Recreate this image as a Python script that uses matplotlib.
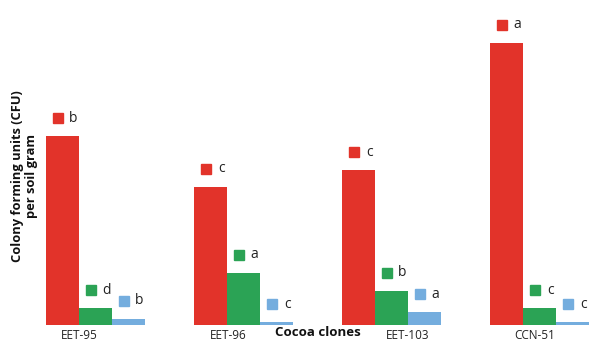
import numpy as np
import matplotlib.pyplot as plt
import matplotlib.transforms as mtransforms

plt.rcParams['font.family'] = ['Open Sans', 'DejaVu Sans']

# relative CFU per soil gram (arbitrary units)
clones = ['EET-95', 'EET-96', 'EET-103', 'CCN-51']
series_a = [189, 138, 155, 282]   # red
series_b = [17, 52, 34, 17]       # green
series_c = [6, 3, 13, 3]          # light blue
letters_a = ['b', 'c', 'c', 'a']
letters_b = ['d', 'a', 'b', 'c']
letters_c = ['b', 'c', 'a', 'c']

colors = ['#E2332A', '#2BA355', '#74ADDE']
label_shift = [-0.11, -0.10, 0.11, -0.03]

W, H = 602, 358
fig = plt.figure(figsize=(W / 100, H / 100), dpi=100)
base = 33  # px from bottom
ax = fig.add_axes([0, base / H, 1, 1 - base / H])

spacing = 148.0
bw = 33 / spacing
x = np.arange(len(clones))
ax.set_xlim(-95.5 / spacing, (W - 95.5) / spacing)
ax.set_ylim(0, 325)

# square marker sits a bit left of bar centre, above the bar
marker_tr = ax.transData + mtransforms.ScaledTranslation(-5 / 100, 18 / 100, fig.dpi_scale_trans)

series = [series_a, series_b, series_c]
letters = [letters_a, letters_b, letters_c]
for k, (vals, lets, col) in enumerate(zip(series, letters, colors)):
    xs = x + (k - 1) * bw
    ax.bar(xs, vals, width=bw, color=col, edgecolor='none')
    ax.plot(xs, vals, marker='s', ms=6.5, color=col, linestyle='none',
            transform=marker_tr, clip_on=False)
    for xi, v, l in zip(xs, vals, lets):
        ax.annotate(l, xy=(xi, v), xytext=(11, 18), textcoords='offset pixels',
                    ha='center', va='center', fontsize=10, color='#222222')

for s in ax.spines.values():
    s.set_visible(False)
ax.set_yticks([])
ax.set_xticks(x + np.array(label_shift))
ax.set_xticklabels(clones, fontsize=8.5, color='#222222')
ax.tick_params(axis='x', length=0, pad=3)

fig.text(318 / W, 1 - 333 / H, 'Cocoa clones', ha='center', va='center',
         fontsize=9.5, fontweight='bold', color='#111111')
fig.text(25 / W, 1 - 176 / H, 'Colony forming units (CFU)\nper soil gram',
         rotation=90, ha='center', va='center', fontsize=9.3,
         fontweight='bold', color='#111111', linespacing=1.1)

fig.savefig('out.png', dpi=100)
